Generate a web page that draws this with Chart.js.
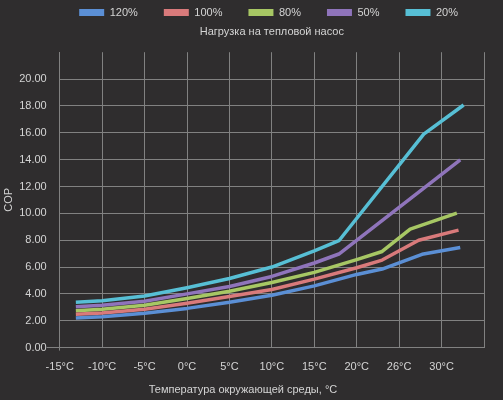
<!DOCTYPE html>
<html>
<head>
<meta charset="utf-8">
<script src="https://cdn.jsdelivr.net/npm/chart.js@4.4.0/dist/chart.umd.min.js"></script>
<style>
  html, body { margin: 0; padding: 0; background: #2f2d2e; }
  #wrap { width: 503px; height: 400px; }
</style>
</head>
<body>
<div id="wrap"><canvas id="cop-chart" width="503" height="400"></canvas></div>
<script>
// --- данные ---
const seriesNames = ['120%', '100%', '80%', '50%', '20%'];
const seriesColors = ['#5b8fd5', '#d97a7b', '#a7c764', '#8f74bb', '#57bfd5'];
const xTickLabels = ['-15°C', '-10°C', '-5°C', '0°C', '5°C', '10°C', '15°C', '20°C', '26°C', '30°C', ''];

const temps120 = [-13.1, -10, -5, 0, 5, 10, 15, 20, 23, 27.7, 32.2];
const cop120   = [2.2, 2.3, 2.55, 2.92, 3.37, 3.9, 4.6, 5.45, 5.85, 6.95, 7.45];

const temps100 = [-13.1, -10, -5, 0, 5, 10, 15, 20, 23, 27.3, 32];
const cop100   = [2.48, 2.57, 2.85, 3.3, 3.8, 4.33, 5.1, 5.95, 6.52, 8.0, 8.75];

const temps80 = [-13.1, -10, -5, 0, 5, 10, 15, 20, 23, 26.3, 31.8];
const cop80   = [2.75, 2.85, 3.15, 3.65, 4.2, 4.85, 5.6, 6.55, 7.16, 8.83, 10.01];

const temps50 = [-13.1, -10, -5, 0, 5, 10, 15, 17.9, 32.2];
const cop50   = [3.05, 3.15, 3.45, 4.0, 4.55, 5.3, 6.3, 6.97, 13.98];

const temps20 = [-13.1, -10, -5, 0, 5, 10, 15, 17.9, 27.9, 32.6];
const cop20   = [3.37, 3.49, 3.84, 4.46, 5.15, 6.0, 7.2, 7.96, 15.9, 18.07];

const allTemps = [temps120, temps100, temps80, temps50, temps20];
const allCops = [cop120, cop100, cop80, cop50, cop20];

const textColor = '#d4d4d4';
const gridColor = '#818181';
const baseFont = { family: '"Liberation Sans", Arial, sans-serif', size: 11 };

function toPoints(xs, ys) {
    return xs.map((x, i) => ({ x: x, y: ys[i] }));
}

const datasets = seriesNames.map((name, i) => ({
    label: name,
    data: toPoints(allTemps[i], allCops[i]),
    borderColor: seriesColors[i],
    backgroundColor: seriesColors[i],
    borderWidth: 3.5,
    pointRadius: 0,
    tension: 0,
    borderJoinStyle: 'round'
}));

Chart.defaults.font = baseFont;
Chart.defaults.color = textColor;

new Chart(document.getElementById('cop-chart'), {
    type: 'line',
    data: { datasets: datasets },
    options: {
        responsive: false,
        animation: false,
        devicePixelRatio: 1,
        layout: { padding: { top: -19, right: 19, left: 2, bottom: 0 } },
        scales: {
            x: {
                type: 'linear',
                min: -15,
                max: 35,
                ticks: {
                    stepSize: 5,
                    padding: 10,
                    maxRotation: 0,
                    color: textColor,
                    callback: (value, index) => xTickLabels[index]
                },
                grid: {
                    color: gridColor,
                    tickLength: 3,
                    tickColor: (ctx) => ctx.index === 0 ? gridColor : 'transparent'
                },
                border: { color: gridColor }
            },
            y: {
                min: 0,
                max: 22,
                ticks: {
                    stepSize: 2,
                    padding: 0,
                    color: textColor,
                    callback: (value) => value >= 22 ? '' : value.toFixed(2)
                },
                grid: {
                    color: (ctx) => ctx.tick && ctx.tick.value >= 22 ? 'transparent' : gridColor,
                    tickLength: 13,
                    tickColor: (ctx) => ctx.tick && ctx.tick.value === 0 ? gridColor : 'transparent'
                },
                border: { color: gridColor },
                title: {
                    display: true,
                    text: 'COP',
                    color: textColor,
                    padding: { top: 0, bottom: 4 }
                }
            }
        },
        plugins: {
            legend: {
                position: 'top',
                weight: 3000,
                align: 'end',
                labels: {
                    boxWidth: 25,
                    boxHeight: 7,
                    padding: 26,
                    color: textColor,
                    generateLabels: (chart) => Chart.defaults.plugins.legend.labels.generateLabels(chart)
                        .map(item => Object.assign(item, { lineWidth: 0 }))
                }
            },
            title: {
                display: true,
                position: 'top',
                fullSize: false,
                text: 'Нагрузка на тепловой насос',
                color: textColor,
                font: { size: 11, weight: 'normal' },
                padding: { top: -3, bottom: 14 }
            },
            subtitle: {
                display: true,
                position: 'bottom',
                text: 'Температура окружающей среды, °С',
                color: textColor,
                font: { size: 11 },
                padding: { top: 0, bottom: 3 }
            },
            tooltip: { enabled: false }
        }
    }
});
</script>
</body>
</html>
